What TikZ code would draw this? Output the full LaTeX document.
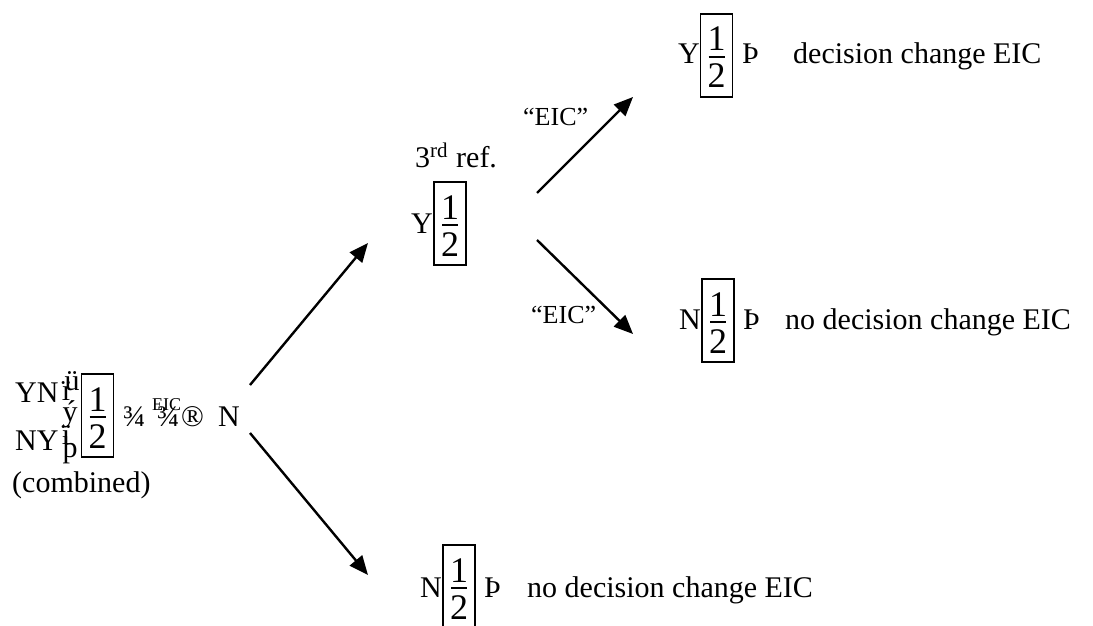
\documentclass[tikz,border=0pt]{standalone}
\usepackage{fontspec}
\setmainfont{Liberation Serif}
\usetikzlibrary{arrows.meta}

\tikzset{
  lbl/.style={font=\fontsize{30}{36}\selectfont, inner sep=0pt},
  quote/.style={font=\fontsize{26}{31}\selectfont, inner sep=0pt},
  tiny/.style={font=\fontsize{18}{22}\selectfont, inner sep=0pt},
  digit/.style={font=\fontsize{36}{43}\selectfont, inner sep=0pt},
  arr/.style={-{Triangle[length=19pt,width=16pt]}, line width=2.4pt},
  halfbox/.pic={
    \draw[line width=1.3pt] (-16,-43) rectangle (16,40);
    \draw[line width=1.3pt] (-8,0) -- (8,0);
    \node[digit, anchor=base] (-one) at (0,-6) {1};
    \node[digit, anchor=base] (-two) at (0,31) {2};
  }
}

\begin{document}
\begin{tikzpicture}[x=1pt, y=-1pt]
    \useasboundingbox (0,0) rectangle (1093,626);

    % Root (combined)
    \node[lbl, anchor=base west] (yn) at (15,402) {YN};
    \node[lbl, anchor=base west] (ny) at (15,450) {NY};
    \node[lbl, anchor=base] (br1) at (72,390) {ü};
    \node[lbl, anchor=base] (br2) at (66,400) {ï};
    \node[lbl, anchor=base] (br3) at (70,421) {ý};
    \node[lbl, anchor=base] (br4) at (66,444) {ï};
    \node[lbl, anchor=base] (br5) at (70,457) {þ};
    \pic (root) at (97.5,417) {halfbox};
    \node[lbl, anchor=base west] (q1) at (123,426) {¾};
    \node[lbl, anchor=base west] (q2) at (157,426) {¾};
    \node[tiny, anchor=base west] (eic) at (152,410) {EIC};
    \node[lbl, anchor=base west] (reg) at (181,426) {®};
    \node[lbl, anchor=base west] (nroot) at (218,426) {N};
    \node[lbl, anchor=base west] (comb) at (12,492) {(combined)};

    % 3rd referee
    \node[lbl, anchor=base west] (ref) at (415,167) {3\textsuperscript{rd}\hspace{8pt}ref.};
    \pic (mid) at (450,225) {halfbox};
    \node[lbl, anchor=base east] (ymid) at (433,233) {Y};

    % Upper outcome
    \pic (up) at (716.5,57) {halfbox};
    \node[lbl, anchor=base east] (yup) at (700,64) {Y};
    \node[lbl, anchor=base west] (tup) at (742,64) {Þ};
    \node[lbl, anchor=base west] (dup) at (793,64) {decision change EIC};

    % Middle outcome
    \pic (lowr) at (718,322) {halfbox};
    \node[lbl, anchor=base east] (nlowr) at (701,329) {N};
    \node[lbl, anchor=base west] (tlowr) at (743,329) {Þ};
    \node[lbl, anchor=base west] (dlowr) at (785,329) {no decision change EIC};

    % Bottom outcome
    \pic (bot) at (459,588) {halfbox};
    \node[lbl, anchor=base east] (nbot) at (442,597) {N};
    \node[lbl, anchor=base west] (tbot) at (484,597) {Þ};
    \node[lbl, anchor=base west] (dbot) at (527,597) {no decision change EIC};

    % Edge labels
    \node[quote, anchor=base west] (e1) at (523,125) {“EIC”};
    \node[quote, anchor=base west] (e2) at (531,323) {“EIC”};

    % Arrows
    \coordinate (a1s) at (250,385);
    \coordinate (a1e) at (368,243);
    \coordinate (a2s) at (250,433);
    \coordinate (a2e) at (368,575);
    \coordinate (a3s) at (537,193);
    \coordinate (a3e) at (633,97);
    \coordinate (a4s) at (537,240);
    \coordinate (a4e) at (633,334);
    \draw[arr] (a1s) -- (a1e);
    \draw[arr] (a2s) -- (a2e);
    \draw[arr] (a3s) -- (a3e);
    \draw[arr] (a4s) -- (a4e);
\end{tikzpicture}
\end{document}
